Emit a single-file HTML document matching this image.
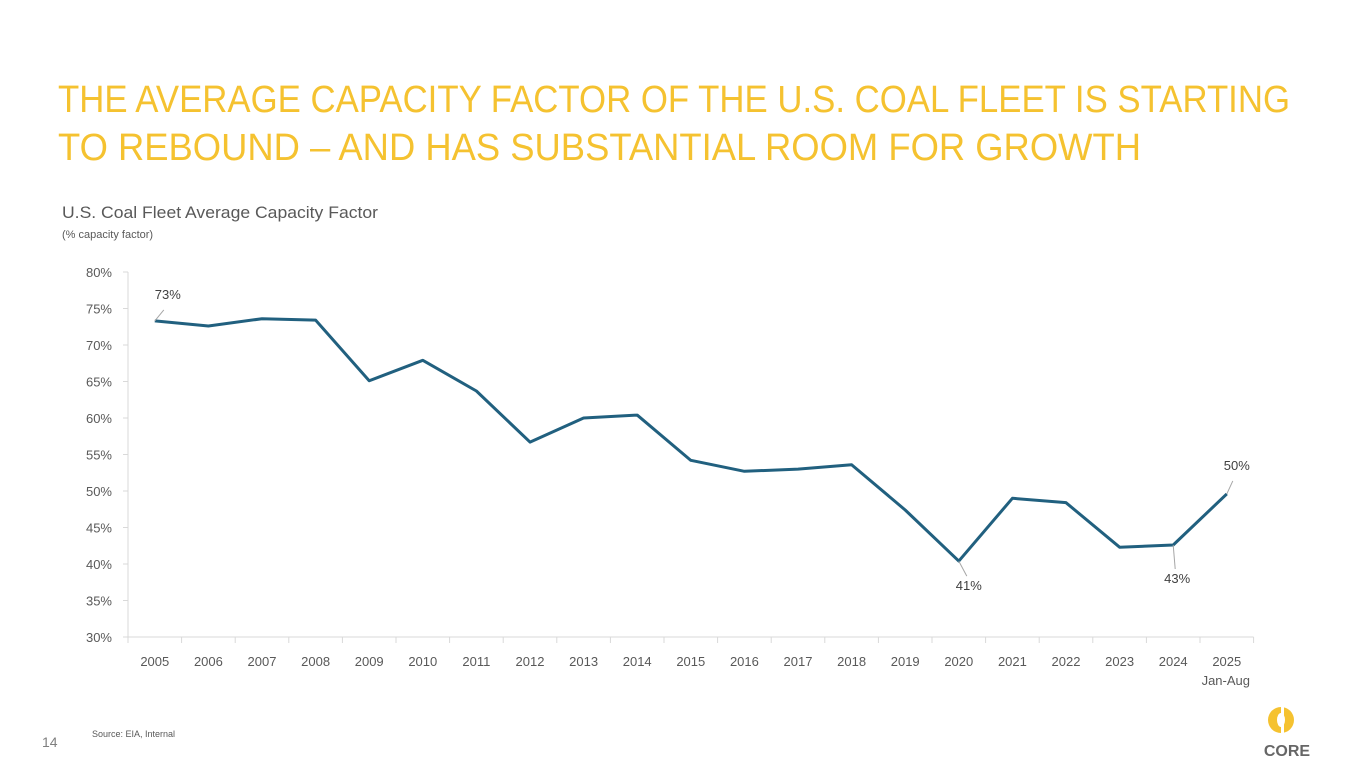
<!DOCTYPE html>
<html><head><meta charset="utf-8"><style>
html,body{margin:0;padding:0;background:#fff;}
svg{display:block;font-family:"Liberation Sans",sans-serif;}
</style></head><body>
<svg id="c" width="1365" height="766" viewBox="0 0 1365 766">
<text x="58" y="112" font-size="38" fill="#F5C230" textLength="1232" lengthAdjust="spacingAndGlyphs">THE AVERAGE CAPACITY FACTOR OF THE U.S. COAL FLEET IS STARTING</text>
<text x="58" y="160" font-size="38" fill="#F5C230" textLength="1083" lengthAdjust="spacingAndGlyphs">TO REBOUND – AND HAS SUBSTANTIAL ROOM FOR GROWTH</text>
<text x="62" y="218" font-size="17" fill="#595959" textLength="316" lengthAdjust="spacingAndGlyphs">U.S. Coal Fleet Average Capacity Factor</text>
<text x="62" y="238" font-size="11" fill="#595959">(% capacity factor)</text>
<g id="plot"></g>
<text x="92" y="737" font-size="9" fill="#595959">Source: EIA, Internal</text>
<text x="42" y="747" font-size="14" fill="#7f7f7f">14</text>
<g>
<circle cx="1281" cy="720" r="13" fill="#F5C230"/>
<ellipse cx="1281" cy="720" rx="4" ry="7" fill="#fff"/>
<rect x="1281" y="705" width="3" height="30" fill="#fff"/>
<text x="1287" y="756" font-size="16" font-weight="bold" fill="#666" text-anchor="middle">CORE</text>
</g>
</svg>
<script>
const years=["2005","2006","2007","2008","2009","2010","2011","2012","2013","2014","2015","2016","2017","2018","2019","2020","2021","2022","2023","2024","2025"];
const values=[73.3,72.6,73.6,73.4,65.1,67.9,63.7,56.7,60.0,60.4,54.2,52.7,53.0,53.6,47.4,40.4,49.0,48.4,42.3,42.6,49.6];
const yTicks=[30,35,40,45,50,55,60,65,70,75,80];
const labels=[{i:0,t:"73%",dx:13,dy:-22},{i:15,t:"41%",dx:10,dy:29},{i:19,t:"43%",dx:4,dy:38},{i:20,t:"50%",dx:10,dy:-24}];
const NS="http://www.w3.org/2000/svg",g=document.getElementById('plot');
const x0=128,step=53.6,y0=637,yTop=272;
const X=i=>x0+step*(i+0.5);
const Y=v=>y0-(v-30)/50*(y0-yTop);
function mk(tag,a,txt){const e=document.createElementNS(NS,tag);for(const k in a)e.setAttribute(k,a[k]);if(txt!=null)e.textContent=txt;g.appendChild(e);return e;}
let e=mk('line',{x1:x0,y1:yTop,x2:x0,y2:y0,stroke:'#d9d9d9'});

e=mk('line',{x1:x0,y1:y0,x2:x0+step*years.length,y2:y0,stroke:'#d9d9d9'});

yTicks.forEach(v=>{
 let t=mk('line',{x1:x0-5,y1:Y(v),x2:x0,y2:Y(v),stroke:'#d9d9d9'});
 
 t=mk('text',{x:112,y:Y(v)+5,'font-size':13,fill:'#595959','text-anchor':'end'},v+'%');
 
});
for(let i=0;i<=years.length;i++){
 let t=mk('line',{x1:x0+step*i,y1:y0,x2:x0+step*i,y2:y0+6,stroke:'#d9d9d9'});
 
}
years.forEach((y,i)=>{
 let t=mk('text',{x:X(i),y:666,'font-size':13,fill:'#595959','text-anchor':'middle'},y);
 
});
e=mk('text',{x:X(20)-1,y:685,'font-size':13,fill:'#595959','text-anchor':'middle'},'Jan-Aug');

e=mk('polyline',{points:values.map((v,i)=>X(i)+','+Y(v)).join(' '),fill:'none',stroke:'#21607F','stroke-width':3,'stroke-linejoin':'round'});

labels.forEach(l=>{
 const px=X(l.i),py=Y(values[l.i]);
 const lx=px+l.dx,ly=py+l.dy;
 let t=mk('line',{x1:px,y1:py,x2:lx-(l.dy<0?4:2),y2:ly+(l.dy<0?11:-14),stroke:'#a6a6a6'});
 
 t=mk('text',{x:lx,y:ly,'font-size':13,fill:'#404040','text-anchor':'middle'},l.t);
 
});
</script>
</body></html>
